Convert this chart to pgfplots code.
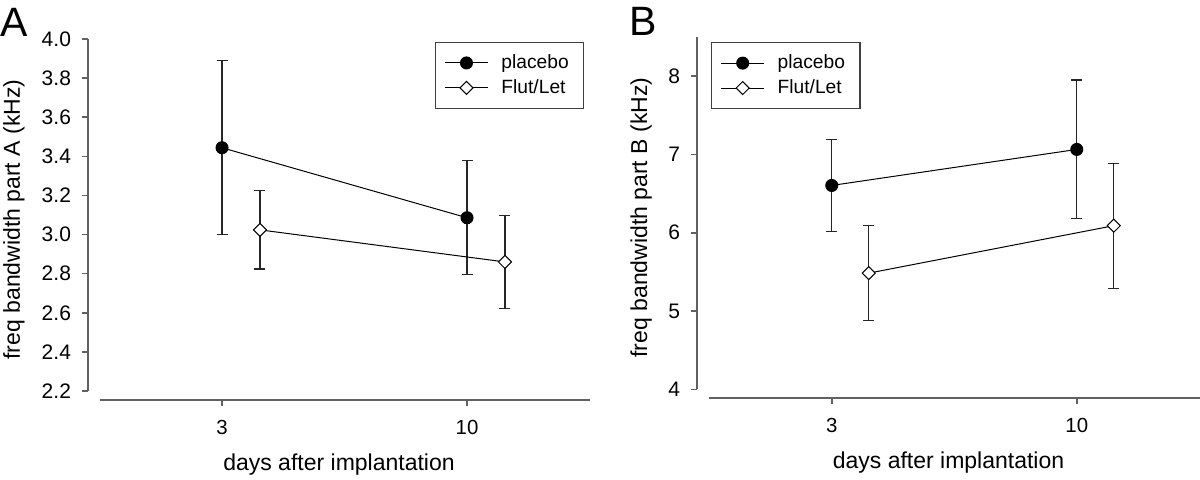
\documentclass[border=0pt]{standalone}
\usepackage{pgfplots}
\pgfplotsset{compat=1.18}
\usepackage{fontspec}
\setmainfont{Liberation Sans}
\definecolor{axgray}{gray}{0.38}
\begin{document}
\begin{tikzpicture}
\useasboundingbox (0,0) rectangle (600pt,239.5pt);
\pgfplotsset{
  myax/.style={
    scale only axis, height=180.5pt,
    axis lines*=left,
    axis line style={draw=none},
    tick align=outside,
    major tick length=3pt,
    every tick/.style={axgray, line width=0.8pt},
    xtick={1,2}, xticklabels={3,10},
    xticklabel style={font=\fontsize{10.2}{12}\selectfont, yshift=-3.5pt},
    yticklabel style={font=\fontsize{10.5}{12}\selectfont, xshift=-2pt},
    label style={font=\fontsize{11.5}{13}\selectfont},
    /pgf/number format/assume math mode=true,
    xlabel={days after implantation},
    xlabel style={at={(axis description cs:0.5,0)}, anchor=base, yshift=-35pt},
    clip=false,
    legend cell align=left,
    legend style={draw=black!75, line width=0.6pt, font=\fontsize{9.6}{12}\selectfont,
      inner xsep=4.5pt, inner ysep=4.5pt, row sep=1pt,
      nodes={inner ysep=1.5pt, inner xsep=3pt},
      /tikz/every odd column/.append style={column sep=3.5pt}},
    legend image code/.code={\draw[mark repeat=2, mark phase=2] plot coordinates {(0pt,0pt) (10.75pt,0pt) (21.5pt,0pt)};},
  },
  placebo/.style={black, line width=0.5pt, mark=*, mark size=3pt, mark options={fill=black, solid},
    error bars/.cd, y dir=both, y explicit,
    error bar style={black!85, line width=0.6pt},
    error mark options={rotate=90, mark size=2.75pt, black!85, line width=0.6pt}},
  flut/.style={black, line width=0.5pt, mark=square*, mark size=2.3pt, mark options={fill=white, draw=black, rotate=45, solid},
    error bars/.cd, y dir=both, y explicit,
    error bar style={black!85, line width=0.6pt},
    error mark options={rotate=90, mark size=2.75pt, black!85, line width=0.6pt}},
}
% Panel A
\begin{axis}[myax, at={(44pt,39.5pt)}, anchor=south west, width=251pt,
  xmin=0.453, xmax=2.502, ymin=2.154, ymax=4.0,
  ytick={2.2,2.4,2.6,2.8,3.0,3.2,3.4,3.6,3.8,4.0},
  yticklabel style={/pgf/number format/.cd, fixed, fixed zerofill, precision=1},
  ylabel={freq bandwidth part A (kHz)},
  ylabel style={at={(axis description cs:-0.1355,0.5)}, anchor=base},
  legend style={at={(axis description cs:0.691,0.992)}, anchor=north west},
]
\draw[axgray, line width=0.9pt] (axis cs:0.453,2.2) -- (axis cs:0.453,4.0);
\draw[axgray, line width=0.9pt] (axis cs:0.5,2.154) -- (axis cs:2.5,2.154);
\addplot[placebo] coordinates {(1,3.444) +- (0,0.445) (2,3.086) +- (0,0.292)};
\addlegendentry{placebo}
\addplot[flut] coordinates {(1.155,3.024) +- (0,0.200) (2.155,2.860) +- (0,0.237)};
\addlegendentry{Flut/Let}
\end{axis}
% Panel B
\begin{axis}[myax, at={(348.5pt,40.5pt)}, anchor=south west, width=251.5pt,
  xmin=0.45, xmax=2.503, ymin=3.889, ymax=8.5,
  ytick={4,5,6,7,8},
  ylabel={freq bandwidth part B (kHz)},
  ylabel style={at={(axis description cs:-0.0994,0.5)}, anchor=base},
  legend style={at={(axis description cs:0.028,0.986)}, anchor=north west},
]
\draw[axgray, line width=0.9pt] (axis cs:0.45,4) -- (axis cs:0.45,8.5);
\draw[axgray, line width=0.9pt] (axis cs:0.5,3.889) -- (axis cs:2.503,3.889);
\addplot[placebo] coordinates {(1,6.604) +- (0,0.585) (2,7.064) +- (0,0.886)};
\addlegendentry{placebo}
\addplot[flut] coordinates {(1.151,5.484) +- (0,0.608) (2.151,6.090) +- (0,0.798)};
\addlegendentry{Flut/Let}
\end{axis}
\node[anchor=base west, inner sep=0pt, font=\fontsize{20.5}{22}\selectfont] at (0pt,221.3pt) {A};
\node[anchor=base west, inner sep=0pt, font=\fontsize{20.5}{22}\selectfont] at (314.5pt,221.8pt) {B};
\end{tikzpicture}
\end{document}
